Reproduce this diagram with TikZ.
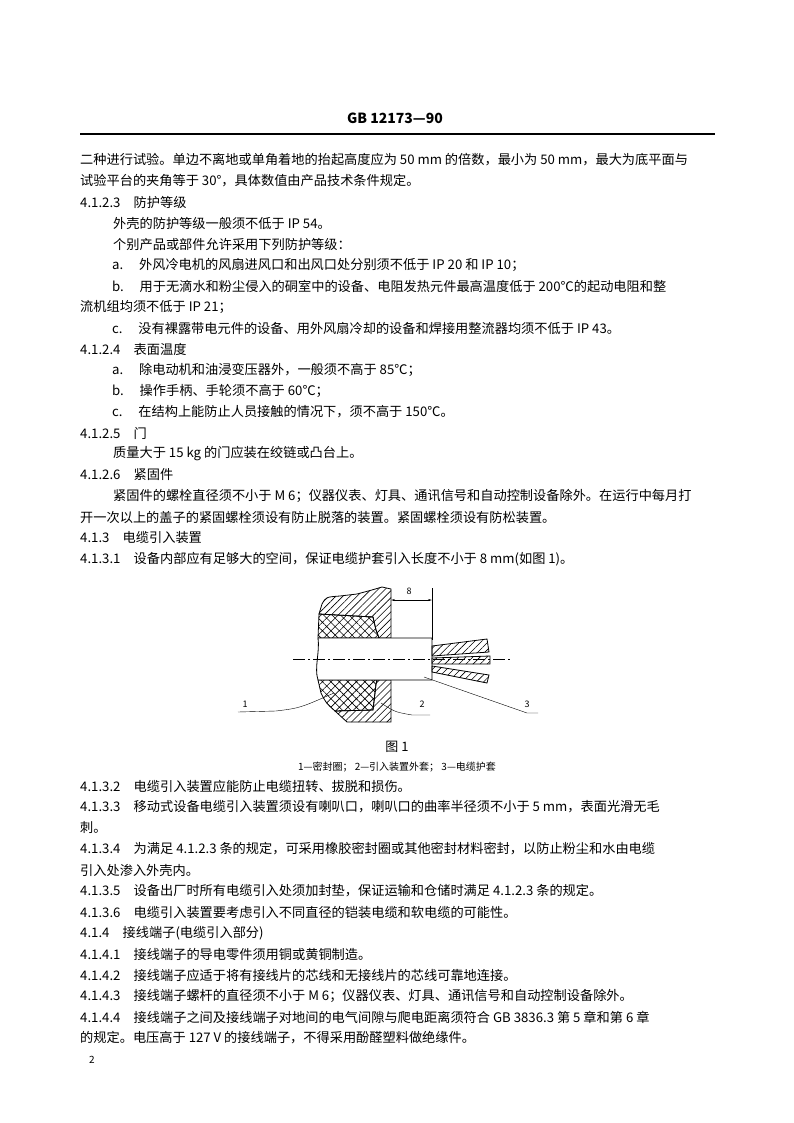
\documentclass[tikz,border=0pt]{standalone}
\usepackage{fontspec}
\setmainfont{Noto Sans CJK SC}
\usetikzlibrary{patterns.meta,arrows.meta}
\tikzset{
  txt/.style={anchor=west,inner sep=0pt,font=\fontsize{13.2}{15}\selectfont},
  fig/.style={line width=0.8pt},
  hatch/.style={fig,pattern={Lines[angle=45,distance=5pt,line width=0.6pt]}},
  xhatch/.style={fig,pattern={Hatch[angle=45,distance=6pt,line width=0.6pt]}},
  lbl/.style={inner sep=1pt,font=\fontsize{9}{10}\selectfont},
}
\begin{document}
\begin{tikzpicture}[x=1pt,y=-1pt]
\useasboundingbox (0,0) rectangle (794,1123);
% header
\node[inner sep=0pt,font=\fontsize{14}{16}\selectfont\bfseries] (hd) at (395,118) {GB 12173—90};
\draw[line width=1.5pt] (80,134) -- (715,134);
% text lines
\node[txt] (t1) at (80,160) {二种进行试验。单边不离地或单角着地的抬起高度应为 50 mm 的倍数，最小为 50 mm，最大为底平面与};
\node[txt] (t2) at (80,181) {试验平台的夹角等于 30°，具体数值由产品技术条件规定。};
\node[txt] (t3) at (80,202) {4.1.2.3\hspace{1em}防护等级};
\node[txt] (t4) at (113,223) {外壳的防护等级一般须不低于 IP 54。};
\node[txt] (t5) at (113,244) {个别产品或部件允许采用下列防护等级：};
\node[txt] (t6) at (112,265) {a.\hspace{1.2em}外风冷电机的风扇进风口和出风口处分别须不低于 IP 20 和 IP 10；};
\node[txt] (t7) at (112,286) {b.\hspace{1.2em}用于无滴水和粉尘侵入的硐室中的设备、电阻发热元件最高温度低于 200℃的起动电阻和整};
\node[txt] (t8) at (80,307) {流机组均须不低于 IP 21；};
\node[txt] (t9) at (112,328) {c.\hspace{1.2em}没有裸露带电元件的设备、用外风扇冷却的设备和焊接用整流器均须不低于 IP 43。};
\node[txt] (t10) at (80,349) {4.1.2.4\hspace{1em}表面温度};
\node[txt] (t11) at (112,370) {a.\hspace{1.2em}除电动机和油浸变压器外，一般须不高于 85℃；};
\node[txt] (t12) at (112,391) {b.\hspace{1.2em}操作手柄、手轮须不高于 60℃；};
\node[txt] (t13) at (112,412) {c.\hspace{1.2em}在结构上能防止人员接触的情况下，须不高于 150℃。};
\node[txt] (t14) at (80,433) {4.1.2.5\hspace{1em}门};
\node[txt] (t15) at (113,454) {质量大于 15 kg 的门应装在绞链或凸台上。};
\node[txt] (t16) at (80,475) {4.1.2.6\hspace{1em}紧固件};
\node[txt] (t17) at (113,496) {紧固件的螺栓直径须不小于 M 6；仪器仪表、灯具、通讯信号和自动控制设备除外。在运行中每月打};
\node[txt] (t18) at (80,517) {开一次以上的盖子的紧固螺栓须设有防止脱落的装置。紧固螺栓须设有防松装置。};
\node[txt] (t19) at (80,538) {4.1.3\hspace{1em}电缆引入装置};
\node[txt] (t20) at (80,559) {4.1.3.1\hspace{1em}设备内部应有足够大的空间，保证电缆护套引入长度不小于 8 mm(如图 1)。};
% figure
\draw[xhatch] (319,614) -- (373,617) -- (376,630) -- (379,638) -- (318,638) -- cycle;
\draw[hatch] (319,614) -- (322,604) .. controls (326,597) .. (340,596) -- (357,594) .. controls (372,590) .. (382,587) -- (391,589) -- (391,638) -- (379,638) -- (376,630) -- (373,617) -- cycle;
\draw[xhatch] (318,680) -- (377,680) -- (376,684) -- (373,710) -- (335,711) .. controls (326,703) .. (321,693) -- cycle;
\draw[hatch] (377,680) -- (391,680) -- (391,722) -- (347,722) -- (335,711) -- (373,710) -- (376,684) -- cycle;
\draw[fig,fill=white] (318,638) -- (432,638) -- (432,680) -- (318,680) .. controls (314,668) and (320,652) .. (318,638);
\draw[hatch] (432,646) -- (487,639) -- (489,652) -- (432,656) -- cycle;
\draw[hatch] (432,658) -- (490,656) -- (490,664) -- (432,664) -- cycle;
\draw[hatch] (432,666) -- (489,675) -- (487,683) -- (432,672) -- cycle;
\draw[line width=0.5pt,dash pattern=on 12pt off 3pt on 2pt off 3pt] (293,659) -- (512,659);
% dimension
\draw[line width=0.5pt] (432,588) -- (432,640);
\draw[line width=0.5pt,{Stealth[length=4pt,width=2pt]}-{Stealth[length=4pt,width=2pt]}] (391,600) -- (432,600);
\node[lbl] (d8) at (409,591) {8};
% labels and leaders
\node[lbl] (n1) at (245,704) {1};
\node[lbl] (n2) at (422,704) {2};
\node[lbl] (n3) at (527,704) {3};
\coordinate (p1) at (334,693);
\coordinate (p2) at (381,703);
\coordinate (p3) at (424,677);
\draw[line width=0.4pt] (238,712) -- (276,711) .. controls (300,708) .. (p1);
\draw[line width=0.4pt] (p2) .. controls (395,712) .. (412,715) -- (430,715);
\draw[line width=0.4pt] (p3) -- (527,713) -- (538,713);
\node[inner sep=0pt,font=\fontsize{13}{15}\selectfont] (fg) at (397,747) {图 1};
\node[inner sep=0pt,font=\fontsize{10}{12}\selectfont] (cap) at (397,767) {1—密封圈；\ 2—引入装置外套；\ 3—电缆护套};
\node[txt] (u1) at (80,786) {4.1.3.2\hspace{1em}电缆引入装置应能防止电缆扭转、拔脱和损伤。};
\node[txt] (u2) at (80,807) {4.1.3.3\hspace{1em}移动式设备电缆引入装置须设有喇叭口，喇叭口的曲率半径须不小于 5 mm，表面光滑无毛};
\node[txt] (u3) at (80,828) {刺。};
\node[txt] (u4) at (80,849) {4.1.3.4\hspace{1em}为满足 4.1.2.3 条的规定，可采用橡胶密封圈或其他密封材料密封，以防止粉尘和水由电缆};
\node[txt] (u5) at (80,870) {引入处渗入外壳内。};
\node[txt] (u6) at (80,891) {4.1.3.5\hspace{1em}设备出厂时所有电缆引入处须加封垫，保证运输和仓储时满足 4.1.2.3 条的规定。};
\node[txt] (u7) at (80,912) {4.1.3.6\hspace{1em}电缆引入装置要考虑引入不同直径的铠装电缆和软电缆的可能性。};
\node[txt] (u8) at (80,933) {4.1.4\hspace{1em}接线端子(电缆引入部分)};
\node[txt] (u9) at (80,954) {4.1.4.1\hspace{1em}接线端子的导电零件须用铜或黄铜制造。};
\node[txt] (u10) at (80,975) {4.1.4.2\hspace{1em}接线端子应适于将有接线片的芯线和无接线片的芯线可靠地连接。};
\node[txt] (u11) at (80,996) {4.1.4.3\hspace{1em}接线端子螺杆的直径须不小于 M 6；仪器仪表、灯具、通讯信号和自动控制设备除外。};
\node[txt] (u12) at (80,1017) {4.1.4.4\hspace{1em}接线端子之间及接线端子对地间的电气间隙与爬电距离须符合 GB 3836.3 第 5 章和第 6 章};
\node[txt] (u13) at (80,1038) {的规定。电压高于 127 V 的接线端子，不得采用酚醛塑料做绝缘件。};
\node[inner sep=0pt,font=\fontsize{10}{12}\selectfont] (pg) at (92,1060) {2};
\end{tikzpicture}
\end{document}
